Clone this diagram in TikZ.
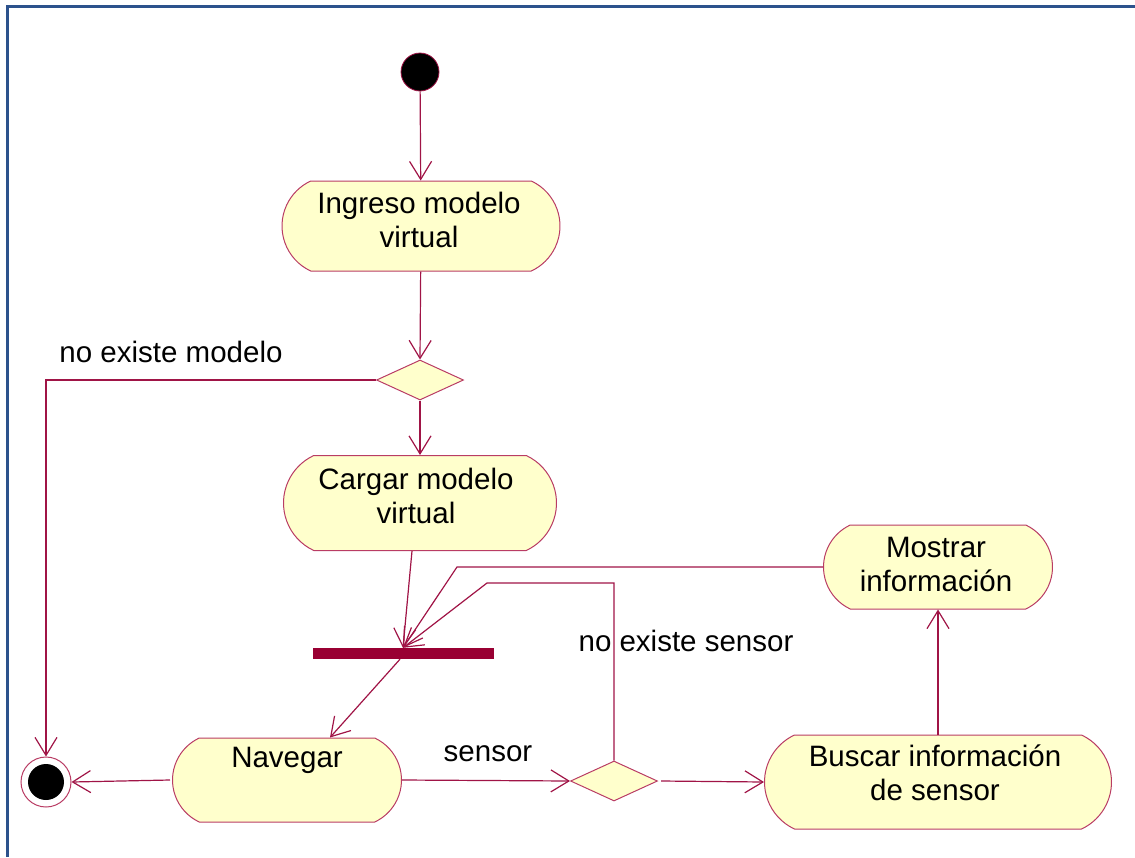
\documentclass[tikz,border=0pt]{standalone}
\usepackage{fontspec}
\setmainfont{Liberation Sans}
\usetikzlibrary{arrows.meta,shapes.misc,shapes.geometric}

\definecolor{flowline}{RGB}{160,20,70}
\definecolor{nodeline}{RGB}{185,60,100}
\definecolor{nodefill}{RGB}{255,255,204}
\definecolor{barfill}{RGB}{153,0,51}
\definecolor{framecol}{RGB}{44,82,140}

\begin{document}
\begin{tikzpicture}[x=1pt,y=-1pt,
  activity/.style={rounded rectangle, rounded rectangle arc length=130,
    draw=nodeline, fill=nodefill, line width=1pt, inner sep=0pt},
  decision/.style={diamond, draw=nodeline, fill=nodefill, line width=1pt,
    inner sep=0pt, minimum width=87pt, minimum height=40pt},
  label text/.style={font=\fontsize{29.5}{34}\selectfont, align=center, inner sep=0pt},
  flow/.style={draw=flowline, line width=1.2pt,
    -{Straight Barb[length=18pt,width=22pt,line width=1.2pt]}}]

\useasboundingbox (0,0) rectangle (1135,857);

% page frame (left and top edges)
\draw[framecol, line width=3pt] (7,857) -- (7,6) -- (1135,6);

% start and end states
\node[circle, fill=black, draw=flowline, line width=0.8pt, minimum size=38pt, inner sep=0pt] (start) at (420,72) {};
\node[circle, draw=nodeline, fill=white, line width=1pt, minimum size=50pt, inner sep=0pt] (final) at (46,782) {};
\fill[black] (final.center) circle (18);

% activities
\node[activity, minimum width=278pt, minimum height=90pt] (ingreso) at (421,226) {};
\node[label text] (ingreso-t) at (419,220) {Ingreso modelo\\virtual};

\node[activity, minimum width=273pt, minimum height=95pt] (cargar) at (420,503) {};
\node[label text] (cargar-t) at (416,496) {Cargar modelo\\virtual};

\node[activity, minimum width=229pt, minimum height=84pt] (navegar) at (287,780) {};
\node[label text] (navegar-t) at (287,760) {Navegar};

\node[activity, minimum width=229pt, minimum height=84pt] (mostrar) at (938,567) {};
\node[label text] (mostrar-t) at (936,564) {Mostrar\\información};

\node[activity, minimum width=347pt, minimum height=94pt] (buscar) at (938,782) {};
\node[label text] (buscar-t) at (935,773) {Buscar información\\de sensor};

% decisions and synchronisation bar
\node[decision] (d1) at (420,380) {};
\node[decision] (d2) at (614,781) {};
\node[fill=barfill, minimum width=181pt, minimum height=11pt, inner sep=0pt] (bar) at (403,653.5) {};

% guard labels
\node[label text] (lbl-modelo) at (171,352) {no existe modelo};
\node[label text] (lbl-nosensor) at (686,641) {no existe sensor};
\node[label text] (lbl-sensor) at (488,754) {sensor};

% bend points
\coordinate (m1) at (457,567);
\coordinate (s1) at (614,583);
\coordinate (s2) at (487,583);

% transitions
\draw[flow] (start) -- (ingreso);
\draw[flow] (ingreso) -- (d1.north);
\draw[flow] (d1) -- (cargar);
\draw[flow] (d1.west) -| (final.north);
\draw[flow] ([xshift=-8pt]cargar.south) -- (bar.north);
\draw[flow] (mostrar.west) -- (m1) -- (bar.north);
\draw[flow] (d2.north) -- (s1) -- (s2) -- (bar.north);
\draw[flow] ([xshift=-3pt]bar.south) -- ([xshift=43pt]navegar.north);
\draw[flow] ([xshift=-2pt]navegar.west) -- (final.east);
\draw[flow] (navegar.east) -- (d2.west);
\draw[flow] ([xshift=3pt]d2.east) -- (buscar.west);
\draw[flow] (buscar.north) -- (mostrar.south);

\end{tikzpicture}
\end{document}
